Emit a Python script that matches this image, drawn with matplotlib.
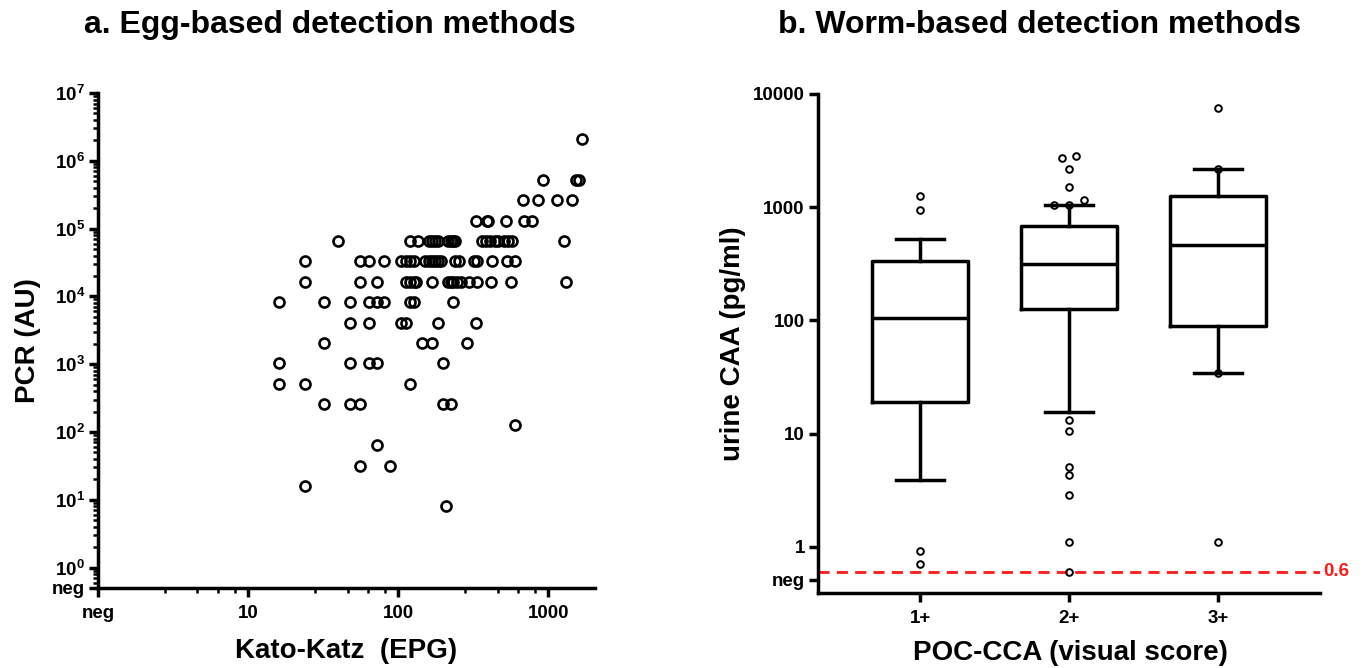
import matplotlib.pyplot as plt
import numpy as np
from matplotlib.ticker import FixedLocator, NullFormatter

plt.rcParams['font.family'] = ['Liberation Sans', 'DejaVu Sans']
plt.rcParams['font.weight'] = 'bold'
plt.rcParams['mathtext.fontset'] = 'custom'
plt.rcParams['mathtext.rm'] = 'Liberation Sans:bold'
plt.rcParams['mathtext.it'] = 'Liberation Sans:bold'
plt.rcParams['mathtext.bf'] = 'Liberation Sans:bold'

# ---- panel a: Kato-Katz EPG vs PCR (AU), one row per PCR level ----
pcr_levels = [2**21, 2**19, 2**18, 2**17, 2**16, 2**15, 2**14, 2**13,
              2**12, 2**11, 2**10, 2**9, 2**8, 2**7, 2**6, 2**5, 2**4, 2**3]
kk_by_level = [
    [1680],
    [930, 1520, 1600],
    [680, 860, 1150, 1430],
    [330, 390, 400, 520, 690, 780],
    [40, 120, 136, 160, 168, 176, 184, 216, 224, 232, 240,
     360, 384, 408, 440, 464, 504, 536, 576, 1280],
    [24, 56, 64, 80, 104, 112, 120, 128, 152, 160, 168, 176, 184, 192,
     240, 256, 320, 336, 424, 528, 600],
    [24, 56, 72, 112, 120, 128, 132, 168, 216, 224, 232, 248, 264,
     296, 336, 416, 568, 1320],
    [16, 32, 48, 64, 72, 80, 120, 128, 232],
    [48, 64, 104, 112, 184, 328],
    [32, 144, 168, 288],
    [16, 48, 64, 72, 200],
    [16, 24, 120],
    [32, 48, 56, 200, 224],
    [600],
    [72],
    [56, 88],
    [24],
    [208],
]

# ---- panel b: urine CAA by POC-CCA score ----
groups = ['1+', '2+', '3+']
whislo = [3.86, 15.4, 34.4]
q1 = [19, 125, 90]
med = [105, 313, 464]
q3 = [335, 675, 1260]
whishi = [528, 1050, 2170]
fliers = [
    [1245, 946, 0.91, 0.71],
    [2730, 2810, 2190, 1516, 1050, 1050, 1160, 13.1, 10.6, 5.07, 4.3, 2.88, 1.09, 0.6],
    [7520, 2170, 34.4, 1.09],
]
flier_dx = [
    [0, 0, 0, 0],
    [-0.05, 0.05, 0, 0, -0.1, 0, 0.1, 0, 0, 0, 0, 0, 0, 0],
    [0, 0, 0, 0],
]
cutoff = 0.6

fig = plt.figure(figsize=(13.64, 6.68), dpi=100)

lw = 2.5

# panel a
ax1 = fig.add_axes([98/1364, 80/668, 497/1364, 495/668])
xs = [x for row in kk_by_level for x in row]
ys = [y for y, row in zip(pcr_levels, kk_by_level) for _ in row]
ax1.plot(xs, ys, 'o', mfc='none', mec='black', ms=7.2, mew=1.9, ls='none', clip_on=False)
ax1.set_xscale('log')
ax1.set_yscale('log')
ax1.set_xlim(1, 2050)
ax1.set_ylim(0.5, 1e7)

ax1.xaxis.set_major_locator(FixedLocator([1, 10, 100, 1000]))
ax1.set_xticklabels(['neg', '10', '100', '1000'])
xminor = [m * 10**k for k in range(0, 4) for m in [2.8, 4.6, 6.3, 8.2] if m * 10**k < 2050]
ax1.xaxis.set_minor_locator(FixedLocator(xminor))
ax1.xaxis.set_minor_formatter(NullFormatter())

yticks = [0.5] + [10**k for k in range(0, 8)]
ax1.yaxis.set_major_locator(FixedLocator(yticks))
ax1.set_yticklabels(['neg'] + ['10$^{%d}$' % k for k in range(0, 8)])
yminor = [m * 10**k for k in range(-1, 7) for m in range(2, 10) if m * 10**k > 0.5]
ax1.yaxis.set_minor_locator(FixedLocator(yminor))
ax1.yaxis.set_minor_formatter(NullFormatter())

ax1.set_xlabel('Kato-Katz  (EPG)', fontsize=20, fontweight='bold', va='center')
ax1.set_ylabel('PCR (AU)', fontsize=20, fontweight='bold', va='center')
ax1.xaxis.set_label_coords(0.5, -0.128)
ax1.yaxis.set_label_coords(-0.14, 0.5)

# panel b
ax2 = fig.add_axes([818/1364, 75/668, 502/1364, 499/668])
stats = []
for i, g in enumerate(groups):
    stats.append(dict(label=g, whislo=whislo[i], q1=q1[i], med=med[i], q3=q3[i], whishi=whishi[i], fliers=[]))
props = dict(color='black', linewidth=lw)
ax2.bxp(stats, positions=[1, 2, 3], widths=0.64, capwidths=0.32, showfliers=False,
        boxprops=props, whiskerprops=props, capprops=props,
        medianprops=props)
for i, fl in enumerate(fliers):
    ax2.plot(np.array(flier_dx[i]) + i + 1, fl, 'o', mfc='none', mec='black', ms=4.8, mew=1.4,
             ls='none', zorder=4)
ax2.axhline(cutoff, color='#ff1a1a', lw=2, ls=(0, (4, 2.6)), zorder=1)
ax2.text(3.71, cutoff, '0.6', color='#ff1a1a', fontsize=13.5, fontweight='bold',
         va='center', ha='left', transform=ax2.transData)

ax2.set_yscale('log')
ax2.set_ylim(0.39, 1e4)
ax2.set_xlim(0.315, 3.685)
ax2.yaxis.set_major_locator(FixedLocator([0.51, 1, 10, 100, 1000, 10000]))
ax2.set_yticklabels(['neg', '1', '10', '100', '1000', '10000'])
ax2.yaxis.set_minor_locator(FixedLocator([]))
ax2.set_xticks([1, 2, 3])
ax2.set_xticklabels(groups)

ax2.set_xlabel('POC-CCA (visual score)', fontsize=20, fontweight='bold', va='center')
ax2.set_ylabel('urine CAA (pg/ml)', fontsize=20, fontweight='bold', va='center')
ax2.xaxis.set_label_coords(0.502, -0.12)
ax2.yaxis.set_label_coords(-0.17, 0.5)

for ax in (ax1, ax2):
    ax.spines['top'].set_visible(False)
    ax.spines['right'].set_visible(False)
    ax.spines['left'].set_linewidth(lw)
    ax.spines['bottom'].set_linewidth(lw)
    ax.tick_params(which='major', length=6.5, width=lw, labelsize=13.5, direction='out')
    ax.tick_params(which='minor', length=3.5, width=1.8, direction='out')
    ax.tick_params(axis='x', pad=6)
    ax.tick_params(axis='y', pad=3)
    for lab in ax.get_xticklabels() + ax.get_yticklabels():
        lab.set_fontweight('bold')

fig.text(330/1364, 1 - 25/668, 'a. Egg-based detection methods', fontsize=23,
         fontweight='bold', ha='center', va='center')
fig.text(1040/1364, 1 - 25/668, 'b. Worm-based detection methods', fontsize=23,
         fontweight='bold', ha='center', va='center')

fig.savefig('out.png', dpi=100)
